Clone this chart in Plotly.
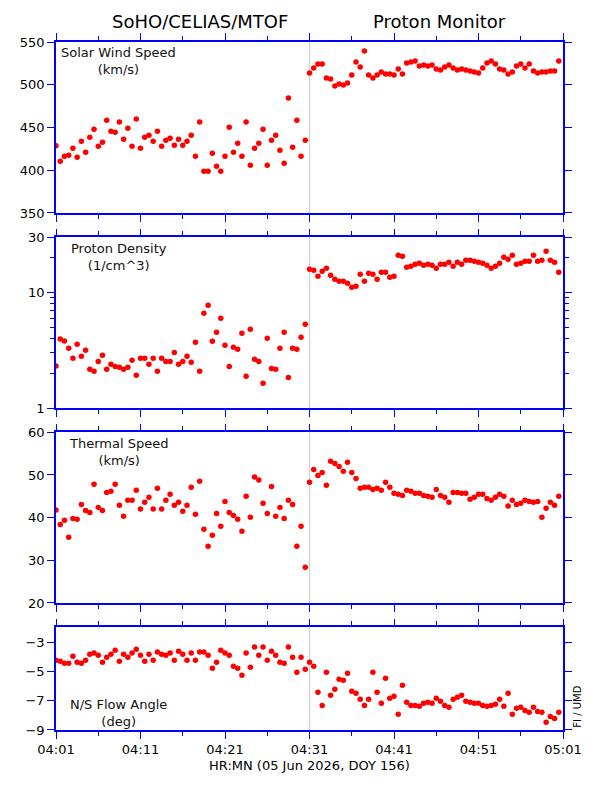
import pandas as pd
import plotly.graph_objects as go

# 30 s cadence, 04:01 to 05:01 on DOY 156
start_time = "2026-06-05 04:01:00"
n_points = 120
shock_time = "2026-06-05 04:31:00"

wind_speed = [
    428.5, 410.5, 416.4, 417.6, 425.8, 415.2, 434.0, 421.1, 438.7, 448.0,
    428.1, 432.8, 458.6, 445.7, 444.5, 456.3, 436.3, 449.2, 428.1, 459.8,
    425.8, 438.7, 441.0, 434.0, 445.7, 428.1, 435.2, 437.5, 429.3, 436.3,
    429.3, 434.0, 441.0, 416.4, 456.3, 398.8, 398.8, 419.9, 404.7, 398.8,
    416.4, 450.4, 421.1, 431.6, 416.4, 456.3, 405.9, 425.8, 431.6, 448.0,
    405.9, 435.2, 441.0, 423.4, 408.2, 484.4, 427.0, 458.6, 416.4, 435.2,
    513.7,
    519.5, 524.2, 524.2, 507.8, 506.6, 498.4, 500.8, 499.6, 502.0, 511.3,
    526.6, 520.7, 539.5, 511.3, 507.8, 511.3, 514.8, 512.5, 512.5, 511.3,
    518.4, 512.5, 525.4, 526.6, 527.7, 521.9, 523.0, 521.9, 523.0, 518.4,
    517.2, 520.7, 523.0, 519.5, 517.2, 518.4, 517.2, 516.0, 514.8, 513.7,
    519.5, 525.4, 527.7, 524.2, 518.4, 517.2, 512.5, 514.8, 521.9, 524.2,
    519.5, 524.2, 516.0, 513.7, 514.8, 514.8, 516.0, 516.0, 527.7,
]

density = [
    2.31, 3.96, 3.80, 3.29, 2.69, 3.56, 2.80, 3.16, 2.16, 2.08,
    2.53, 2.86, 2.16, 2.39, 2.29, 2.25, 2.16, 2.25, 2.59, 1.92,
    2.69, 2.69, 2.39, 2.69, 2.08, 2.69, 2.53, 2.53, 3.03, 2.39,
    2.53, 2.80, 2.49, 3.70, 2.08, 6.60, 7.74, 3.78, 4.52, 5.97,
    3.49, 2.29, 3.35, 3.22, 4.43, 1.88, 4.80, 2.64, 2.53, 1.64,
    4.01, 2.20, 2.16, 3.29, 4.52, 1.84, 3.29, 3.22, 4.09, 5.30,
    15.85,
    15.55, 13.79, 15.24, 16.18, 14.06, 12.99, 12.48, 12.48, 12.00, 11.08,
    11.30, 14.35, 12.48, 14.64, 14.35, 12.99, 14.94, 14.94, 13.52, 13.79,
    20.96, 20.55, 16.50, 16.83, 17.52, 17.87, 17.17, 17.52, 17.17, 16.18,
    17.52, 17.52, 18.23, 16.83, 18.23, 17.52, 18.97, 18.97, 18.60, 18.23,
    17.87, 17.17, 16.18, 16.83, 17.87, 20.14, 19.35, 20.96, 17.52, 17.87,
    18.60, 18.60, 20.96, 18.60, 18.97, 22.70, 18.97, 18.23, 14.94,
]

thermal_speed = [
    41.8, 38.4, 39.4, 35.4, 39.8, 39.6, 43.1, 41.7, 41.2, 47.8,
    42.4, 41.7, 45.9, 46.2, 47.8, 42.9, 40.3, 44.1, 44.1, 46.4,
    42.0, 43.6, 44.8, 42.0, 46.9, 42.0, 44.1, 45.5, 42.9, 43.6,
    41.5, 42.9, 47.1, 40.8, 48.5, 37.3, 33.3, 35.9, 41.0, 38.0,
    43.8, 41.2, 40.5, 39.6, 36.8, 45.0, 40.1, 49.5, 48.8, 43.4,
    41.0, 47.3, 40.3, 42.4, 39.8, 44.1, 43.1, 33.3, 38.0, 28.4,
    48.3,
    51.3, 49.9, 50.6, 47.6, 53.2, 52.7, 52.0, 50.9, 53.0, 50.6,
    49.2, 46.9, 47.1, 47.1, 46.6, 46.9, 46.4, 48.3, 47.1, 45.7,
    45.5, 45.2, 46.4, 46.2, 45.7, 45.7, 45.2, 45.0, 44.8, 46.6,
    45.2, 44.8, 43.6, 45.9, 45.9, 45.7, 45.7, 44.3, 44.8, 45.5,
    45.5, 44.5, 44.1, 44.8, 45.5, 45.0, 42.7, 44.1, 43.1, 43.4,
    44.1, 43.8, 43.6, 43.8, 40.1, 42.2, 43.6, 42.9, 45.0,
]

flow_angle = [
    -4.23, -4.30, -4.44, -4.44, -3.96, -4.37, -4.44, -4.23, -3.82, -3.75,
    -3.89, -4.37, -4.03, -3.82, -3.55, -4.30, -3.82, -4.03, -3.75, -3.48,
    -3.89, -4.30, -3.82, -4.23, -3.68, -3.82, -3.89, -3.75, -4.23, -3.62,
    -3.82, -4.23, -3.75, -4.23, -3.68, -3.68, -3.89, -4.78, -4.37, -3.55,
    -3.75, -3.89, -4.64, -4.78, -5.26, -3.75, -4.71, -3.34, -3.89, -3.34,
    -4.23, -3.62, -3.89, -4.37, -4.44, -3.34, -4.03, -5.05, -4.03, -4.85,
    -4.37,
    -4.64, -6.42, -7.32, -5.05, -6.63, -6.22, -5.53, -5.60, -5.12, -6.36,
    -6.49, -6.90, -7.32, -6.90, -5.05, -6.42, -7.18, -5.47, -6.84, -6.70,
    -7.93, -5.95, -7.11, -7.32, -7.32, -7.38, -7.18, -7.11, -7.18, -6.84,
    -7.04, -7.32, -7.45, -6.90, -6.77, -6.63, -7.04, -7.11, -7.18, -7.18,
    -7.32, -7.38, -7.32, -7.25, -6.90, -7.38, -6.49, -7.93, -7.52, -7.45,
    -7.66, -7.79, -7.45, -7.73, -7.79, -8.47, -8.07, -8.21, -7.79,
]

panel_labels = ["Solar Wind Speed<br>(km/s)", "Proton Density<br>(1/cm^3)",
                "Thermal Speed<br>(km/s)", "N/S Flow Angle<br>(deg)"]

times = pd.date_range(start_time, periods=n_points, freq="30s")

BLUE = "#0000ff"
FONT = "DejaVu Sans"

fig = go.Figure()

series = [wind_speed, density, thermal_speed, flow_angle]
for i, vals in enumerate(series, start=1):
    fig.add_trace(go.Scatter(
        x=times, y=vals, mode="markers",
        marker=dict(color="#ff0000", size=5.5, line=dict(width=0)),
        xaxis="x" if i == 1 else f"x{i}", yaxis="y" if i == 1 else f"y{i}",
        showlegend=False,
    ))

# panel domains, top to bottom
domains = [[0.7515, 1.0], [0.468, 0.7161], [0.1846, 0.4327], [0.0, 0.149]]

axis_common = dict(showline=True, linecolor=BLUE, linewidth=1.5, mirror="ticks",
                   ticks="outside", tickcolor=BLUE, tickwidth=1.3, ticklen=7,
                   showgrid=False, zeroline=False,
                   tickfont=dict(family=FONT, size=13, color="#000"))

# page body has an 8px margin, so the figure is 8px smaller and margins shifted
layout = dict(
    width=588, height=780,
    margin=dict(l=44, r=33, t=34, b=58),
    paper_bgcolor="white", plot_bgcolor="white",
    font=dict(family=FONT, size=13, color="#000"),
)

for i in range(1, 5):
    xa = dict(axis_common)
    xa.update(
        domain=[0, 1], anchor="y" if i == 1 else f"y{i}",
        type="date", range=["2026-06-05 04:01:00", "2026-06-05 05:01:00"],
        tick0="2026-06-05 04:01:00", dtick=600000, tickformat="%H:%M",
        showticklabels=(i == 4),
        minor=dict(dtick=300000, tick0="2026-06-05 04:01:00", ticks="outside",
                   ticklen=4.5, tickcolor=BLUE, tickwidth=1.3),
    )
    if i > 1:
        xa["matches"] = "x"
    layout["xaxis" if i == 1 else f"xaxis{i}"] = xa

ya1 = dict(axis_common, domain=domains[0], anchor="x", range=[350, 550],
           tickvals=[350, 400, 450, 500, 550])
ya2 = dict(axis_common, domain=domains[1], anchor="x2", type="log",
           range=[0, 1.4771], tickvals=[1, 10, 30], ticktext=["1", "10", "30"],
           minor=dict(tickvals=[2, 3, 4, 5, 6, 7, 8, 9, 20], ticks="outside",
                      ticklen=4, tickcolor=BLUE, tickwidth=1.3))
ya3 = dict(axis_common, domain=domains[2], anchor="x3", range=[20, 60],
           tickvals=[20, 30, 40, 50, 60])
ya4 = dict(axis_common, domain=domains[3], anchor="x4", range=[-9, -2],
           tickvals=[-3, -5, -7, -9])
layout.update(yaxis=ya1, yaxis2=ya2, yaxis3=ya3, yaxis4=ya4)

fig.update_layout(**layout)

# grey marker line at the jump
for i in range(1, 5):
    xr = "x" if i == 1 else f"x{i}"
    yr = "y domain" if i == 1 else f"y{i} domain"
    fig.add_shape(type="line", xref=xr, yref=yr, x0=shock_time, x1=shock_time,
                  y0=0, y1=1, line=dict(color="#d4d4d4", width=1.5), layer="below")

# panel labels
label_y = [0.886, 0.886, 0.886, 0.17]
for i, (txt, ly) in enumerate(zip(panel_labels, label_y), start=1):
    fig.add_annotation(
        text=txt, xref="x domain" if i == 1 else f"x{i} domain",
        yref="y domain" if i == 1 else f"y{i} domain",
        x=0.1237, y=ly, xanchor="center", yanchor="middle", showarrow=False,
        font=dict(family=FONT, size=13, color="#111"),
    )

fig.add_annotation(text="SoHO/CELIAS/MTOF", xref="paper", yref="paper",
                   x=0.285, y=1.0295, xanchor="center", yanchor="middle",
                   showarrow=False, font=dict(family=FONT, size=18, color="#000"))
fig.add_annotation(text="Proton Monitor", xref="paper", yref="paper",
                   x=0.757, y=1.0295, xanchor="center", yanchor="middle",
                   showarrow=False, font=dict(family=FONT, size=18, color="#000"))
fig.add_annotation(text="HR:MN (05 Jun 2026, DOY 156)", xref="paper", yref="paper",
                   x=0.5, y=-0.052, xanchor="center", yanchor="middle",
                   showarrow=False, font=dict(family=FONT, size=13, color="#000"))
fig.add_annotation(text="FI / UMD", xref="paper", yref="paper",
                   x=1.027, y=0.0, xanchor="center", yanchor="bottom", textangle=-90,
                   showarrow=False, font=dict(family=FONT, size=10, color="#000"))

fig.write_html("out.html")
